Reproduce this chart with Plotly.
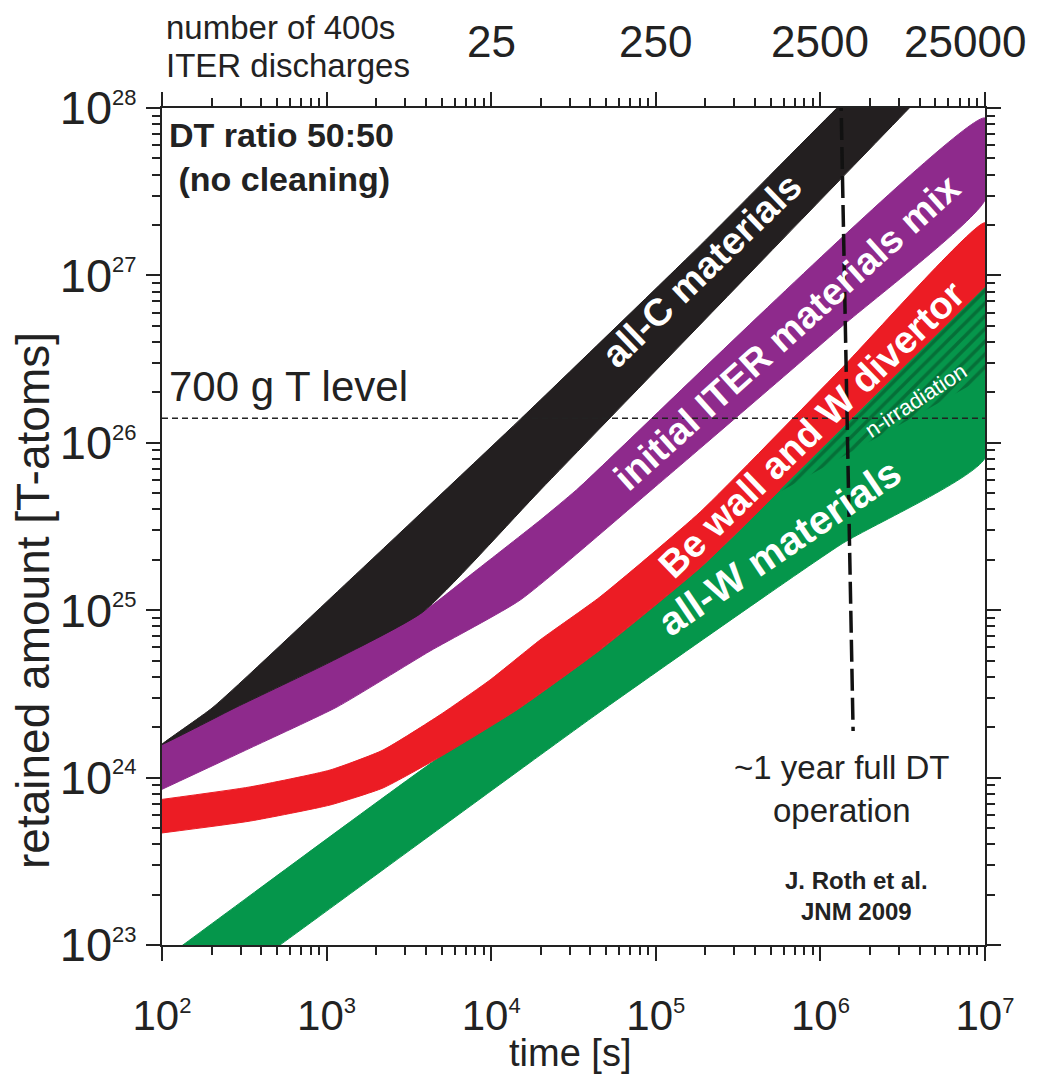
import numpy as np
import plotly.graph_objects as go

# ---------------- data ----------------
# time [s] and retained amount [T atoms] along the edges of each band
allC_upper_t = [1e2, 2.04e2, 1.38e3, 1.5e4, 1.86e5, 1.26e6, 1e7]
allC_upper_n = [1.58e24, 2.63e24, 1.51e25, 1.38e26, 1.51e27, 1.0e28, 7.4e28]
allC_lower_t = [1e2, 2.82e2, 1.05e3, 3.85e3, 2.0e4, 3.47e6, 1e7]
allC_lower_n = [1.58e24, 2.63e24, 4.9e24, 9.77e24, 5.25e25, 1.0e28, 2.95e28]

iter_upper_t = [1e2, 2.82e2, 1.05e3, 3.85e3, 7.94e3, 2.0e4, 3.31e4, 1e7]
iter_upper_n = [1.58e24, 2.63e24, 4.9e24, 9.77e24, 1.7e25, 3.47e25, 5.25e25, 8.71e27]
iter_lower_t = [1e2, 3.43e2, 1.156e3, 4.25e3, 1.5e4, 1e5, 1.315e6, 1e7]
iter_lower_n = [8.51e23, 1.5e24, 2.64e24, 5.7e24, 1.15e25, 5.5e25, 4.85e26, 2.82e27]

bew_upper_t = [1e2, 3.43e2, 1.05e3, 2.2e3, 4.89e3, 9.84e3, 1.98e4, 4.58e4, 1.86e5, 1.315e6, 1e7]
bew_upper_n = [7.41e23, 8.8e23, 1.11e24, 1.46e24, 2.37e24, 3.83e24, 6.64e24, 1.2e25, 3.86e25, 2.72e26, 2.06e27]
bew_lower_t = [1e2, 3.43e2, 1.05e3, 2.2e3, 4.89e3, 1.435e4, 4.58e4, 1.86e5, 3.73e5, 7.52e5, 1.51e6, 3.05e6, 1e7]
bew_lower_n = [4.67e23, 5.5e23, 6.86e23, 8.67e23, 1.33e24, 2.54e24, 5.78e24, 1.79e25, 3.46e25, 6.89e25, 1.35e26, 2.69e26, 8.53e26]

allW_upper_t = [1e2, 1.34e2, 4.89e3, 1.435e4, 4.58e4, 1.86e5, 3.73e5, 7.52e5, 1.51e6, 3.05e6, 1e7]
allW_upper_n = [8.13e22, 1.0e23, 1.33e24, 2.54e24, 5.78e24, 1.79e25, 3.46e25, 6.89e25, 1.35e26, 2.69e26, 8.53e26]
allW_lower_t = [1e2, 5.21e2, 4.58e4, 1.315e6, 1e7]
allW_lower_n = [3.1e22, 1.0e23, 2.47e24, 2.45e25, 8.1e25]

# lower edge of the hatched (n-irradiation) part of the all-W band
nirr_lower_t = [5.69e5, 1e7]
nirr_lower_n = [5.1e25, 2.47e26]

# reference levels
level_700g = 1.4e26
one_year_t = [1.33e6, 1.58e6]
one_year_n = [1.3e28, 1.9e24]

# axes
x_major = [1e2, 1e3, 1e4, 1e5, 1e6, 1e7]
x_exp = ["2", "3", "4", "5", "6", "7"]
y_major = [1e23, 1e24, 1e25, 1e26, 1e27, 1e28]
y_exp = ["23", "24", "25", "26", "27", "28"]
discharge_t = [1e4, 1e5, 1e6, 1e7]
discharge_labels = ["25", "250", "2500", "25000"]

# ---------------- styling ----------------
FONT = "Liberation Sans, Arial, Helvetica, sans-serif"
INK = "#222222"
C_BLACK = "#231f20"
C_PURPLE = "#8e2a8c"
C_RED = "#ec1c24"
C_GREEN = "#05964b"
C_DKGREEN = "#064a26"


def band(ut, un, lt, ln, color):
    return go.Scatter(
        x=list(ut) + list(lt)[::-1],
        y=list(un) + list(ln)[::-1],
        mode="lines", fill="toself", fillcolor=color,
        line=dict(color=color, width=1, shape="spline", smoothing=0.5),
        hoverinfo="skip", showlegend=False)


def minor_vals(lo, hi):
    return [m * 10.0 ** k for k in range(lo, hi) for m in range(2, 10)]


fig = go.Figure()
fig.add_trace(band(allW_upper_t, allW_upper_n, allW_lower_t, allW_lower_n, C_GREEN))
fig.add_trace(band(bew_upper_t, bew_upper_n, bew_lower_t, bew_lower_n, C_RED))
fig.add_trace(band(iter_upper_t, iter_upper_n, iter_lower_t, iter_lower_n, C_PURPLE))
fig.add_trace(band(allC_upper_t, allC_upper_n, allC_lower_t, allC_lower_n, C_BLACK))

# hatched region: upper edge follows the all-W upper edge
t0 = nirr_lower_t[0]
hu_t = [t0] + [t for t in allW_upper_t if t > t0]
hu_n = [10 ** np.interp(np.log10(t0), np.log10(allW_upper_t), np.log10(allW_upper_n))] + \
       [n for t, n in zip(allW_upper_t, allW_upper_n) if t > t0]
fig.add_trace(go.Scatter(
    x=hu_t + nirr_lower_t[::-1], y=hu_n + nirr_lower_n[::-1],
    mode="lines", fill="toself", fillcolor=C_GREEN, line=dict(width=0),
    fillpattern=dict(shape="/", fgcolor=C_DKGREEN, bgcolor=C_GREEN, size=9, solidity=0.4),
    hoverinfo="skip", showlegend=False))

# 700 g T level
fig.add_trace(go.Scatter(x=[x_major[0], x_major[-1]], y=[level_700g, level_700g], mode="lines",
                         line=dict(color=INK, width=1.5, dash="6px,4px"),
                         hoverinfo="skip", showlegend=False))
# ~1 year full DT operation
fig.add_trace(go.Scatter(x=one_year_t, y=one_year_n, mode="lines",
                         line=dict(color="#111111", width=3.5, dash="22px,7px"),
                         hoverinfo="skip", showlegend=False))

sup = "10<sup><span style='font-size:{s}px'>{e}</span></sup>"

# the page body adds an 8px margin on every side; size the figure so it fits the window
# and the frame lands where the reference has it
fig.update_layout(
    width=1035, height=1068, autosize=False,
    margin=dict(l=154, r=58, t=100, b=131, autoexpand=False),
    paper_bgcolor="white", plot_bgcolor="white",
    font=dict(family=FONT, color=INK),
    showlegend=False,
    xaxis=dict(type="log", range=[2, 7], tickvals=x_major, automargin=False,
               ticktext=[sup.format(s=22, e=e) for e in x_exp],
               tickfont=dict(size=42, color=INK), ticklabelstandoff=19,
               ticks="outside", ticklen=14, tickwidth=2, tickcolor=INK,
               showline=True, linewidth=2, linecolor=INK, mirror="ticks",
               showgrid=False, zeroline=False,
               minor=dict(tickvals=minor_vals(2, 7), ticks="outside", ticklen=8,
                          tickwidth=1.5, tickcolor=INK, showgrid=False)),
    yaxis=dict(type="log", range=[23, 28], tickvals=y_major, automargin=False,
               ticktext=[sup.format(s=22, e=e) for e in y_exp],
               tickfont=dict(size=47, color=INK),
               ticks="outside", ticklen=14, tickwidth=2, tickcolor=INK,
               showline=True, linewidth=2, linecolor=INK, mirror="ticks",
               showgrid=False, zeroline=False,
               minor=dict(tickvals=minor_vals(23, 28), ticks="outside", ticklen=8,
                          tickwidth=1.5, tickcolor=INK, showgrid=False)),
)

ann = []
# secondary (top) scale: number of 400 s discharges, placed at the matching times
for i, (t, lab) in enumerate(zip(discharge_t, discharge_labels)):
    last = i == len(discharge_t) - 1
    ann.append(dict(text=lab, x=np.log10(t), xref="x", y=1.08, yref="paper",
                    showarrow=False, font=dict(size=44), xanchor="center", yanchor="middle",
                    xshift=-20 if last else 0))
# axis titles
ann.append(dict(text="time [s]", xref="paper", yref="paper", x=0.496, y=-0.129,
                showarrow=False, font=dict(size=38), xanchor="center", yanchor="middle"))
ann.append(dict(text="retained amount [T-atoms]", xref="paper", yref="paper", x=-0.157, y=0.412,
                textangle=-90, showarrow=False, font=dict(size=46), xanchor="center", yanchor="middle"))
ann.append(dict(text="number of 400s", xref="paper", yref="paper",
                x=0.003, y=1.096, showarrow=False, align="left", font=dict(size=33),
                xanchor="left", yanchor="middle"))
ann.append(dict(text="ITER discharges", xref="paper", yref="paper",
                x=0.003, y=1.051, showarrow=False, align="left", font=dict(size=33),
                xanchor="left", yanchor="middle"))
# plot texts
ann.append(dict(text="<b>DT ratio 50:50<br> (no cleaning)</b>", xref="paper", yref="paper",
                x=0.006, y=0.993, showarrow=False, align="left", font=dict(size=34),
                xanchor="left", yanchor="top"))
ann.append(dict(text="700 g T level", x=2.03, y=np.log10(level_700g), xref="x", yref="y",
                showarrow=False, font=dict(size=42), xanchor="left", yanchor="bottom", yshift=6))
ann.append(dict(text="~1 year full DT<br>operation", x=6.13, y=23.93, xref="x", yref="y",
                showarrow=False, font=dict(size=33), xanchor="center", yanchor="middle"))
ann.append(dict(text="<b>J. Roth et al.<br>JNM 2009</b>", x=6.22, y=23.29, xref="x", yref="y",
                showarrow=False, font=dict(size=24), xanchor="center", yanchor="middle"))
# band labels
band_font = dict(size=38, color="white")
ann.append(dict(text="<b>all-C materials</b>", x=5.28, y=27.03, textangle=-44,
                showarrow=False, font=band_font))
ann.append(dict(text="<b>initial ITER materials mix</b>", x=5.8, y=26.66, textangle=-42,
                showarrow=False, font=band_font))
ann.append(dict(text="<b>Be wall and W divertor</b>", x=5.95, y=26.08, textangle=-44,
                showarrow=False, font=band_font))
ann.append(dict(text="<b>all-W materials</b>", x=5.75, y=25.38, textangle=-34,
                showarrow=False, font=dict(size=40, color="white")))
ann.append(dict(text="n-irradiation", x=6.58, y=26.25, textangle=-33,
                showarrow=False, font=dict(size=22, color="white")))
fig.update_layout(annotations=ann)

fig.write_html("out.html")
